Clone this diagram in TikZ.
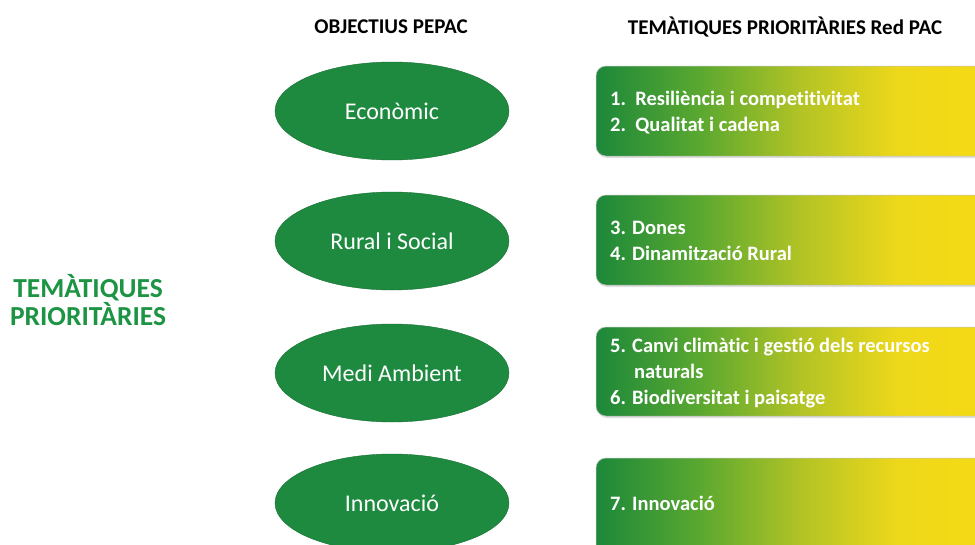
\documentclass[tikz,border=0pt]{standalone}
\usepackage{fontspec}
\setmainfont{Carlito}[Ligatures=NoCommon]
\usetikzlibrary{shapes.geometric,shadows}
\definecolor{ellgreen}{HTML}{1D8A3F}
\definecolor{titlegreen}{HTML}{1C9444}
\definecolor{gA}{HTML}{1C883A}
\definecolor{gB}{HTML}{5AA830}
\definecolor{gC}{HTML}{B4C425}
\definecolor{gD}{HTML}{EED81A}
\definecolor{gE}{HTML}{F6DB14}
\pgfdeclarehorizontalshading{greenyellow}{100bp}{color(0bp)=(gA); color(25bp)=(gA); color(38bp)=(gB); color(51bp)=(gC); color(63bp)=(gD); color(75bp)=(gE); color(100bp)=(gE)}
\tikzset{
  oval/.style={ellipse, fill=ellgreen, draw=ellgreen!80!black, line width=0.4pt, minimum width=234pt, minimum height=98pt, inner sep=0pt, text=white, font=\fontsize{24}{28}\selectfont},
  tbox/.style={rounded corners=10pt, shading=greenyellow, draw=gray!50, line width=0.5pt, drop shadow={opacity=0.25, shadow xshift=1pt, shadow yshift=-2pt}},
  btext/.style={anchor=west, align=left, text=white, font=\bfseries\fontsize{20.5}{26}\selectfont, inner sep=0pt},
  head/.style={font=\bfseries\fontsize{21}{24}\selectfont, text=black},
}
\begin{document}
\begin{tikzpicture}[x=1pt,y=-1pt]
\useasboundingbox (0,0) rectangle (975,544);
\clip (0,0) rectangle (975,544);
\fill[white] (0,0) rectangle (975,544);
% headings
\node[head] (h1) at (391,27) {OBJECTIUS PEPAC};
\node[head] (h2) at (785,27) {TEMÀTIQUES PRIORITÀRIES Red PAC};
% left title
\node[align=center, text=titlegreen, font=\bfseries\fontsize{27.5}{28}\selectfont] (title) at (88,300) {TEMÀTIQUES\\PRIORITÀRIES};
% ellipses
\node[oval] (e1) at (392,111) {Econòmic};
\node[oval] (e2) at (392,241) {Rural i Social};
\node[oval] (e3) at (392,373) {Medi Ambient};
\node[oval] (e4) at (392,503) {Innovació};
% boxes
\path[tbox] (596,66) rectangle (995,156);
\path[tbox] (596,195) rectangle (995,285);
\path[tbox] (596,327) rectangle (995,416);
\path[tbox] (596,458) rectangle (995,560);
\node[btext] (t1) at (610,113) {1.\ \ Resiliència i competitivitat\\2.\ \ Qualitat i cadena};
\node[btext] (t2) at (610,241) {3. Dones\\4. Dinamització Rural};
\node[btext] (t3) at (610,373) {5. Canvi climàtic i gestió dels recursos\\\hspace*{24pt}naturals\\6. Biodiversitat i paisatge};
\node[btext] (t4) at (610,503) {7. Innovació};
\end{tikzpicture}
\end{document}
